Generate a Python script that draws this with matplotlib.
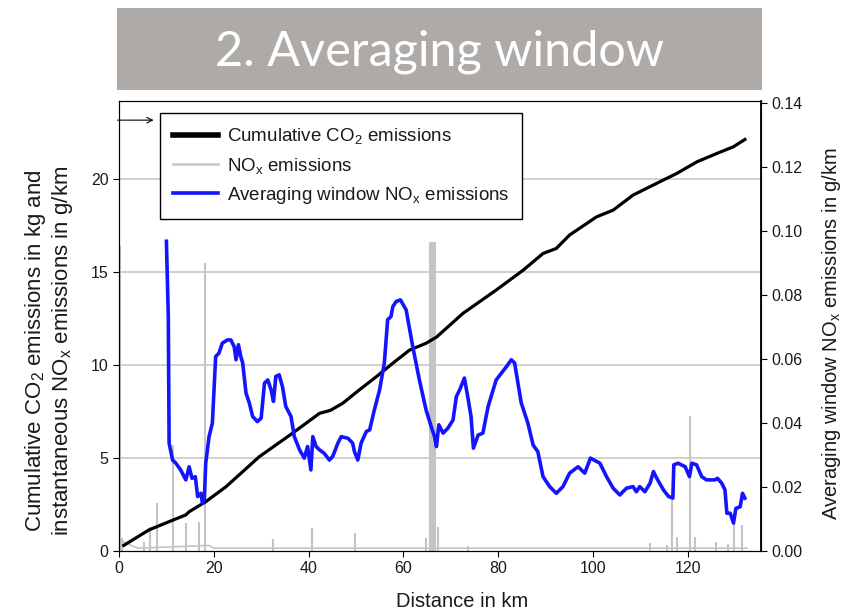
import matplotlib
matplotlib.use('Agg')
import matplotlib.pyplot as plt
from matplotlib.lines import Line2D
from matplotlib.patches import Rectangle

plt.rcParams['font.family'] = ['Liberation Sans', 'DejaVu Sans']
plt.rcParams['mathtext.fontset'] = 'custom'
plt.rcParams['mathtext.rm'] = 'Liberation Sans'

# cumulative CO2 (kg) vs distance (km)
co2_km = [1.0, 6.3, 10.6, 14.1, 14.8, 18.3, 22.6, 29.6, 36.6, 42.3, 44.6, 47.2, 50.7,
          54.3, 57.8, 61.3, 64.8, 67.0, 72.6, 79.6, 85.3, 89.5, 92.3, 95.1, 100.8,
          104.3, 108.5, 114.9, 117.7, 122.0, 126.2, 129.7, 132.1]
co2_kg = [0.3, 1.13, 1.58, 1.94, 2.11, 2.65, 3.46, 5.07, 6.33, 7.4, 7.56, 7.94, 8.66,
          9.37, 10.1, 10.8, 11.17, 11.5, 12.78, 14.03, 15.1, 16.0, 16.27, 16.99, 17.97,
          18.33, 19.14, 19.95, 20.3, 20.93, 21.38, 21.74, 22.13]

# averaging window NOx (g/km)
avg_km = [10.0, 10.4, 10.57, 11.3, 12.0, 13.0, 14.1, 14.8, 15.4, 16.1,
          16.6, 17.3, 17.6, 18.0, 18.3, 19.0, 19.7, 20.4, 21.1, 21.8,
          22.9, 23.6, 24.3, 24.7, 25.2, 25.7, 26.1, 26.8, 27.5, 28.2,
          29.2, 30.0, 30.7, 31.4, 32.1, 32.6, 33.1, 33.8, 34.5, 35.2,
          36.3, 37.0, 38.1, 39.1, 39.8, 40.5, 40.9, 41.6, 42.3, 43.3,
          44.4, 45.1, 46.2, 46.9, 48.3, 49.3, 49.7, 50.4, 51.1, 52.2,
          52.9, 53.9, 55.0, 56.0, 56.7, 57.4, 57.8, 58.5, 59.4, 60.6,
          62.0, 63.4, 64.8, 65.9, 66.6, 67.0, 67.5, 68.4, 69.4, 70.5,
          71.2, 71.9, 72.9, 73.6, 74.3, 74.8, 75.8, 76.8, 77.9, 79.6,
          80.7, 81.8, 82.8, 83.5, 84.9, 86.3, 87.4, 88.4, 89.5, 90.9,
          92.3, 93.7, 95.1, 96.9, 98.3, 99.5, 101.5, 102.9, 104.3, 105.7,
          107.1, 108.5, 109.2, 109.9, 111.0, 112.1, 112.8, 113.5, 114.9, 116.0,
          116.9, 117.1, 118.0, 119.5, 120.4, 120.9, 121.9, 123.0, 124.0, 125.8,
          126.3, 127.2, 127.9, 128.3, 129.0, 129.7, 130.2, 131.1, 131.6, 132.1]
avg_val = [0.0967, 0.0732, 0.0337, 0.0284, 0.0274, 0.0253, 0.0222, 0.0263, 0.0227, 0.0232,
           0.0170, 0.0180, 0.0149, 0.0159, 0.0274, 0.0357, 0.0399, 0.0607, 0.0618, 0.0649,
           0.0659, 0.0659, 0.0638, 0.0597, 0.0644, 0.0607, 0.0587, 0.0493, 0.0462, 0.0420,
           0.0404, 0.0415, 0.0524, 0.0534, 0.0503, 0.0467, 0.0545, 0.0550, 0.0513, 0.0451,
           0.0420, 0.0357, 0.0316, 0.0290, 0.0326, 0.0253, 0.0357, 0.0326, 0.0316, 0.0305,
           0.0284, 0.0295, 0.0337, 0.0357, 0.0352, 0.0337, 0.0310, 0.0284, 0.0337, 0.0373,
           0.0378, 0.0441, 0.0503, 0.0587, 0.0722, 0.0732, 0.0763, 0.0779, 0.0784, 0.0753,
           0.0638, 0.0534, 0.0441, 0.0388, 0.0357, 0.0326, 0.0394, 0.0368, 0.0383, 0.0409,
           0.0482, 0.0503, 0.0540, 0.0482, 0.0420, 0.0321, 0.0362, 0.0368, 0.0451, 0.0534,
           0.0555, 0.0576, 0.0597, 0.0587, 0.0462, 0.0399, 0.0331, 0.0310, 0.0232, 0.0201,
           0.0180, 0.0201, 0.0243, 0.0263, 0.0243, 0.0290, 0.0274, 0.0232, 0.0196, 0.0175,
           0.0196, 0.0201, 0.0185, 0.0201, 0.0185, 0.0212, 0.0248, 0.0227, 0.0191, 0.0170,
           0.0165, 0.0269, 0.0274, 0.0263, 0.0232, 0.0274, 0.0269, 0.0232, 0.0222, 0.0222,
           0.0227, 0.0212, 0.0191, 0.0118, 0.0118, 0.0087, 0.0133, 0.0138, 0.0180, 0.0165]

# instantaneous NOx (g/km): baseline + spikes
base_km = [0.0, 1.0, 2.5, 4.0, 19.0, 20.0, 132.5]
base_val = [0.6, 0.5, 0.3, 0.15, 0.3, 0.15, 0.15]
spike_km = [0.1, 0.7, 5.3, 6.5, 8.0, 11.3, 14.2, 16.8, 18.2, 32.6, 40.7, 49.9, 64.7,
            65.7, 65.9, 66.1, 66.3, 66.5, 66.7, 67.3, 73.6, 112.1, 115.7, 116.8, 117.8,
            120.5, 121.6, 126.0, 128.5, 129.8, 131.6]
spike_val = [16.4, 0.68, 0.5, 1.31, 2.56, 5.7, 1.52, 1.58, 15.5, 0.63, 1.22, 0.95, 0.68,
             16.6, 16.6, 16.6, 16.6, 16.6, 16.6, 1.31, 0.29, 0.45, 0.3, 2.74, 0.77,
             7.27, 0.77, 0.5, 0.36, 1.49, 1.4]

left_ticks = [0, 5, 10, 15, 20]
right_ticks = [0.00, 0.02, 0.04, 0.06, 0.08, 0.10, 0.12, 0.14]
x_ticks = [0, 20, 40, 60, 80, 100, 120]

GRAY = '#c4c4c4'
TXT = '#1a1a1a'

fig = plt.figure(figsize=(8.43, 6.15), dpi=100)

# title banner
fig.patches.append(Rectangle((0.1388, 0.8537), 0.7651, 0.1333, transform=fig.transFigure,
                             facecolor='#aeaaa8', edgecolor='none'))
fig.text(0.521, 0.916, '2. Averaging window', color='white', fontsize=35,
         family=['Lato', 'DejaVu Sans'], ha='center', va='center')

ax = fig.add_axes([0.1412, 0.1041, 0.7615, 0.7317])
ax.set_xlim(0, 135.5)
ax.set_ylim(0, 24.2)
for y in left_ticks[1:]:
    ax.axhline(y, color=GRAY, lw=1.1, zorder=0)

ax.plot(base_km, base_val, color=GRAY, lw=1.2, zorder=1)
ax.vlines(spike_km, 0, spike_val, color=GRAY, lw=1.5, zorder=1)
ax.plot(co2_km, co2_kg, color='black', lw=2.3, zorder=2)

ax.annotate('', xy=(7.3, 23.17), xytext=(-0.3, 23.17), annotation_clip=False,
            arrowprops=dict(arrowstyle='->', lw=0.8, color='black', shrinkA=0, shrinkB=0))

ax.set_xticks(x_ticks)
ax.set_yticks(left_ticks)
ax.tick_params(direction='out', length=4, width=0.8, labelsize=11.5, labelcolor=TXT)

ax2 = ax.twinx()
ax2.set_ylim(0, 0.1405)
ax2.plot(avg_km, avg_val, color='#1414ff', lw=2.6, zorder=3)
ax2.set_yticks(right_ticks)
ax2.set_yticklabels(['%.2f' % v for v in right_ticks])
ax2.tick_params(direction='out', length=4, width=0.8, labelsize=11.5, labelcolor=TXT)
ax2.spines['right'].set_linewidth(1.3)

handles = [Line2D([], [], color='black', lw=4),
           Line2D([], [], color=GRAY, lw=1.8),
           Line2D([], [], color='#1414ff', lw=2.6)]
labels = [r'Cumulative CO$\mathregular{_2}$ emissions',
          r'NO$\mathregular{_x}$ emissions',
          r'Averaging window NO$\mathregular{_x}$ emissions']
leg = ax2.legend(handles, labels, loc='upper left', bbox_to_anchor=(0.064, 0.973),
                 borderaxespad=0, fontsize=13.5, frameon=True, fancybox=False,
                 edgecolor='black', framealpha=1, handlelength=2.4, handletextpad=0.45,
                 labelspacing=0.5, borderpad=0.7)
leg.get_frame().set_linewidth(1.0)
for t in leg.get_texts():
    t.set_color(TXT)

fig.text(0.058, 0.429, 'Cumulative CO$\\mathregular{_2}$ emissions in kg and\n'
         'instantaneous NO$\\mathregular{_x}$ emissions in g/km',
         rotation=90, ha='center', va='center', fontsize=16, color=TXT, linespacing=1.1)
fig.text(0.9858, 0.457, 'Averaging window NO$\\mathregular{_x}$ emissions in g/km',
         rotation=90, ha='center', va='center', fontsize=14.5, color=TXT)
fig.text(0.548, 0.022, 'Distance in km', ha='center', va='center', fontsize=14.5, color=TXT)

fig.savefig('out.png', dpi=100)
